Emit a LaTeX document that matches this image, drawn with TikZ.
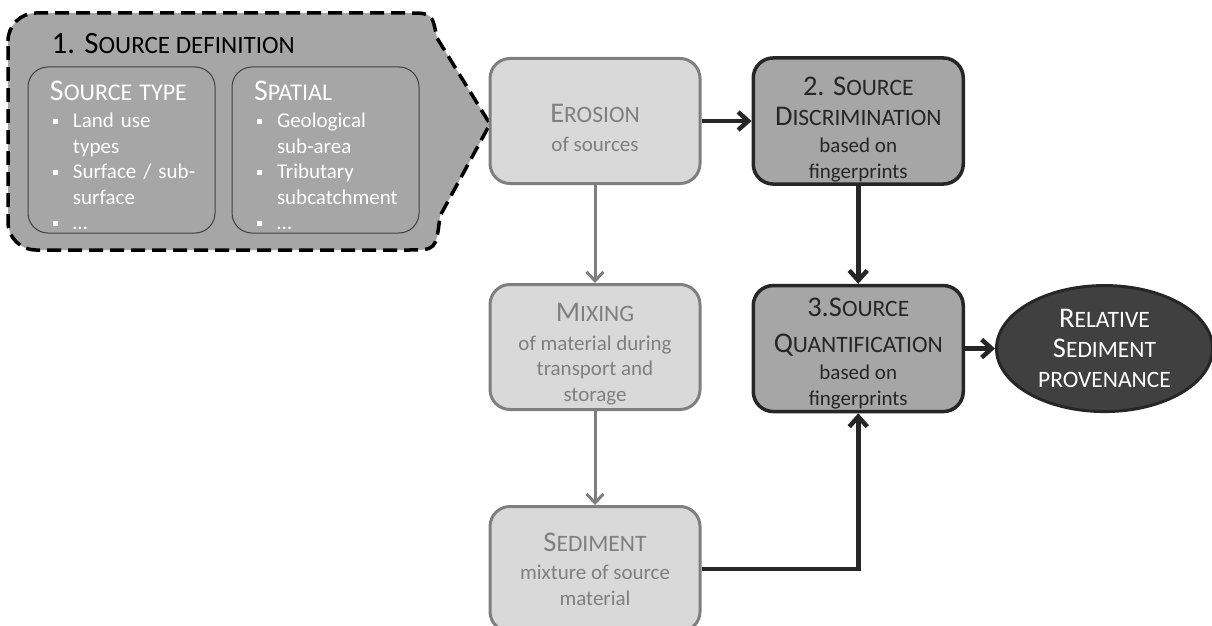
\documentclass[tikz,border=0pt]{standalone}
\usepackage{fontspec}
\setmainfont{Carlito}
\usepackage{tikz}
\usetikzlibrary{shapes.geometric,arrows.meta,positioning}
\definecolor{sedlight}{HTML}{D9D9D9}
\definecolor{sedgrey}{HTML}{7F7F7F}
\definecolor{sedmid}{HTML}{A6A6A6}
\definecolor{seddark}{HTML}{262626}
\definecolor{sedcore}{HTML}{404040}
\setlength\parindent{0pt}
\newcommand\capsz{\fontsize{28.5}{30}\selectfont}
\newcommand\scsz{\fontsize{23.5}{30}\selectfont}
\newcommand\sca[2]{{\capsz #1}{\scsz #2}}
\newcommand\lift[1]{\rule{0pt}{#1}}
\newcommand\blt[1]{\par\hangindent=31.5pt\hangafter=1\makebox[31.5pt][l]{\hspace{11.5pt}\rule[4pt]{5pt}{5pt}}#1}

\begin{document}
\begin{tikzpicture}[
    x=1pt, y=1pt,
    node distance=98pt and 50pt,
    lightbox/.style={rectangle, rounded corners=20pt, draw=sedgrey, fill=sedlight, line width=3pt, text=sedgrey, minimum width=210pt, minimum height=125pt, align=center, inner sep=2pt, font=\fontsize{21}{25.5}\selectfont},
    darkbox/.style={rectangle, rounded corners=20pt, draw=seddark, fill=sedmid, line width=3.5pt, text=seddark, minimum width=210pt, minimum height=126pt, align=center, inner sep=2pt, font=\fontsize{21}{25.5}\selectfont},
    inbox/.style={rectangle, rounded corners=20pt, draw=sedcore, fill=sedmid, line width=1pt, text=white, text width=160pt, minimum height=166pt, align=left, inner xsep=13.5pt, inner ysep=0pt, font=\fontsize{21}{25.5}\selectfont},
    result/.style={ellipse, draw=seddark, fill=sedcore, line width=3pt, text=white, minimum width=216pt, minimum height=126pt, align=center, inner sep=0pt, font=\fontsize{21}{30}\selectfont},
    srcframe/.style={draw=black, fill=sedmid, line width=3.5pt, dash pattern=on 14pt off 7pt},
    greyarr/.style={-{Straight Barb[length=9pt, width=17pt]}, line width=3pt, draw=sedgrey},
    darkarr/.style={-{Straight Barb[length=10pt, width=18pt]}, line width=4.5pt, draw=seddark}
]
    \useasboundingbox (0,0) rectangle (1212,-626);

    % Source definition
    \draw[srcframe] (8,-41) arc[start angle=180, end angle=90, radius=28] -- (408,-13)
        .. controls (432,-13) .. (437,-38) -- (490,-124) -- (440,-216)
        .. controls (436,-250) .. (408,-250) -- (36,-250)
        arc[start angle=270, end angle=180, radius=28] -- cycle;
    \node (srcdef) [anchor=base west] at (48,-54) {{\fontsize{31}{34}\selectfont 1. S}{\fontsize{25}{34}\selectfont OURCE DEFINITION}};

    \node (stype) [inbox] at (121.5,-150) {\hspace*{8.5pt}\lift{30pt}{\fontsize{30}{32}\selectfont S}{\fontsize{24}{32}\selectfont OURCE TYPE}\par\vskip2pt
        \blt{Land use\newline types}\blt{Surface / sub-\newline surface}\blt{\dots}};
    \node (spat) [inbox, right=16pt of stype] {\hspace*{8.5pt}\lift{30pt}{\fontsize{30}{32}\selectfont S}{\fontsize{24}{32}\selectfont PATIAL}\par\vskip2pt
        \blt{Geological\newline sub-area}\blt{Tributary\newline subcatchment}\blt{\dots}};

    % Sediment pathway
    \node (eros) [lightbox] at (595,-121) {\lift{32pt}\sca{E}{ROSION}\\[3pt] of sources};
    \node (mix) [lightbox, below=of eros] {\lift{33pt}\sca{M}{IXING}\\[3pt] of material during\\ transport and\\ storage};
    \node (sed) [lightbox, below=94pt of mix] {\sca{S}{EDIMENT}\\[3pt] mixture of source\\ material};

    % Fingerprinting
    \node (disc) [darkbox, right=of eros] {\lift{36pt}\sca{2. S}{OURCE}\\[4pt] \sca{D}{ISCRIMINATION}\\[2pt] based on\\ fingerprints};
    \node (quant) [darkbox, below=of disc] {\lift{28pt}\sca{3.S}{OURCE}\\[10pt] \sca{Q}{UANTIFICATION}\\[2pt] based on\\ fingerprints};
    \node (prov) [result, right=30pt of quant] {\sca{R}{ELATIVE}\\ \sca{S}{EDIMENT}\\ {\scsz PROVENANCE}};

    % Connectors
    \draw [greyarr] (eros) -- (mix);
    \draw [greyarr] (mix) -- (sed);
    \draw [darkarr] (eros) -- (disc);
    \draw [darkarr] (disc) -- (quant);
    \draw [darkarr] (quant) -- (prov);
    \draw [darkarr] (sed) -| (quant);
\end{tikzpicture}
\end{document}
